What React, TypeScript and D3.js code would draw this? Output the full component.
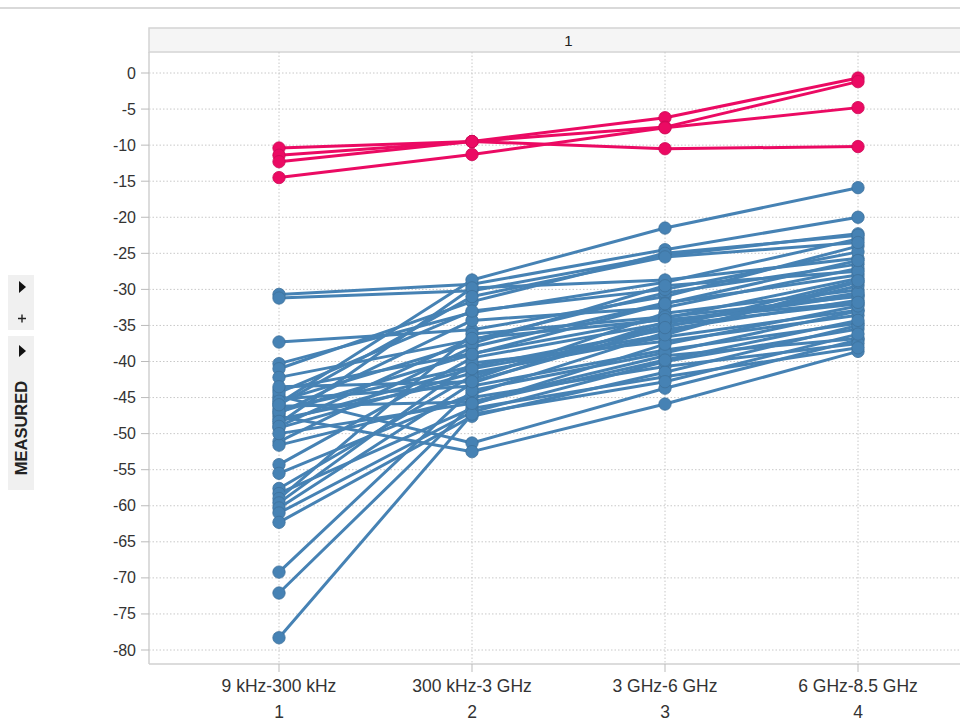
import React from "react";
import * as d3 from "d3";

const categories = ["9 kHz-300 kHz", "300 kHz-3 GHz", "3 GHz-6 GHz", "6 GHz-8.5 GHz"];
const categoryNumbers = ["1", "2", "3", "4"];
const yTicks = [0, -5, -10, -15, -20, -25, -30, -35, -40, -45, -50, -55, -60, -65, -70, -75, -80];
const panelTitle = "1";
const sideLabel = "MEASURED";

const pinkSeries: number[][] = [
  [-10.4, -9.5, -6.2, -0.7],
  [-11.4, -9.5, -7.5, -1.2],
  [-12.3, -9.5, -10.5, -10.2],
  [-14.5, -11.3, -7.6, -4.8],
];

const blueSeries: number[][] = [
  [-30.7, -29.3, -24.5, -20.0],
  [-31.2, -30.2, -25.3, -22.3],
  [-37.3, -35.6, -31.0, -24.0],
  [-40.3, -33.2, -29.0, -23.0],
  [-41.0, -31.7, -25.0, -22.5],
  [-42.2, -37.0, -30.5, -26.5],
  [-43.9, -38.9, -34.0, -28.5],
  [-44.8, -51.3, -43.7, -37.0],
  [-45.8, -28.7, -21.5, -15.9],
  [-46.7, -40.7, -35.6, -31.5],
  [-47.6, -52.5, -45.9, -38.6],
  [-48.6, -29.8, -28.7, -25.7],
  [-49.2, -41.6, -36.6, -32.9],
  [-45.2, -43.4, -38.4, -34.7],
  [-46.2, -45.6, -39.2, -36.8],
  [-47.2, -34.3, -32.5, -27.1],
  [-48.0, -42.5, -33.3, -30.1],
  [-51.1, -38.0, -31.9, -28.0],
  [-51.6, -45.0, -40.7, -37.5],
  [-54.3, -39.5, -34.7, -30.8],
  [-55.5, -44.5, -36.0, -29.5],
  [-57.6, -42.0, -35.0, -32.0],
  [-58.3, -46.5, -42.1, -38.1],
  [-59.0, -36.2, -33.8, -31.0],
  [-59.6, -40.2, -37.2, -33.6],
  [-60.3, -43.0, -34.5, -30.5],
  [-61.0, -47.0, -40.0, -35.5],
  [-62.3, -47.6, -41.5, -35.0],
  [-69.2, -44.0, -38.8, -33.0],
  [-72.1, -46.0, -37.6, -32.3],
  [-78.3, -47.3, -42.8, -36.2],
  [-44.3, -33.0, -30.0, -24.8],
  [-45.5, -37.5, -29.5, -27.5],
  [-47.0, -39.0, -32.0, -26.0],
  [-48.3, -41.0, -36.3, -29.0],
  [-46.0, -31.0, -25.5, -23.5],
  [-49.0, -36.8, -34.2, -31.8],
  [-50.0, -45.8, -39.8, -34.3],
  [-43.5, -42.8, -35.3, -28.8],
];

const BLUE = "#4682b4";
const PINK = "#eb0a63";

export default function App() {
  const W = 960;
  const H = 721;
  const plotLeft = 149;
  const plotRight = 988;
  const plotTop = 52;
  const plotBottom = 664;
  const headerTop = 28;

  const x = d3.scalePoint<string>().domain(categories).range([279, 858]);
  const y = d3.scaleLinear().domain([-80, 0]).range([650, 73]);

  const line = d3
    .line<number>()
    .x((_, i) => x(categories[i]) as number)
    .y((d) => y(d));

  const font = "'Liberation Sans', Arial, sans-serif";

  const renderSeries = (series: number[][], color: string, key: string) =>
    series.map((s, si) => (
      <g key={key + si}>
        <path d={line(s) || ""} fill="none" stroke={color} strokeWidth={3} strokeLinejoin="round" />
        {s.map((v, i) => (
          <circle key={i} cx={x(categories[i])} cy={y(v)} r={6.2} fill={color} stroke={d3.color(color)!.darker(0.4).toString()} strokeWidth={0.8} />
        ))}
      </g>
    ));

  return (
    <svg width={W} height={H} style={{ position: "absolute", left: 0, top: 0, display: "block" }} fontFamily={font}>
      <rect x={0} y={0} width={W} height={H} fill="#fff" />
      <line x1={0} x2={W} y1={8} y2={8} stroke="#d9d9d9" strokeWidth={2} />

      {/* side panel */}
      <rect x={8} y={275} width={26} height={55} fill="#f0f0f0" />
      <path d="M19,281 L26,287 L19,293 Z" fill="#111" />
      <path d="M18,318.5 L26,318.5 M22,314.5 L22,322.5" stroke="#222" strokeWidth={1.4} />
      <rect x={8} y={336} width={26} height={154} fill="#f0f0f0" />
      <path d="M19,345 L26,351 L19,357 Z" fill="#111" />
      <text
        transform="translate(27,428) rotate(-90)"
        fontSize={16.5}
        fontWeight="bold"
        textAnchor="middle"
        fill="#222"
      >
        {sideLabel}
      </text>

      {/* header */}
      <rect x={plotLeft} y={headerTop} width={plotRight - plotLeft} height={plotTop - headerTop} fill="#f5f5f5" stroke="#d4d4d4" strokeWidth={1.5} />
      <text x={(plotLeft + plotRight) / 2} y={46} fontSize={15} textAnchor="middle" fill="#222">{panelTitle}</text>

      {/* grid */}
      {yTicks.map((t) => (
        <line key={"g" + t} x1={plotLeft} x2={plotRight} y1={y(t)} y2={y(t)} stroke="#c8c8c8" strokeWidth={1} strokeDasharray="1.5,2" />
      ))}
      {categories.map((c) => (
        <line key={"v" + c} x1={x(c)} x2={x(c)} y1={plotTop} y2={plotBottom} stroke="#c8c8c8" strokeWidth={1} strokeDasharray="1.5,2" />
      ))}

      {/* frame */}
      <line x1={plotLeft} x2={plotLeft} y1={plotTop} y2={plotBottom} stroke="#d0d0d0" strokeWidth={1.5} />
      <line x1={plotLeft} x2={plotRight} y1={plotBottom} y2={plotBottom} stroke="#d0d0d0" strokeWidth={1.5} />

      {/* y axis */}
      {yTicks.map((t) => (
        <g key={"t" + t}>
          <line x1={141} x2={plotLeft} y1={y(t)} y2={y(t)} stroke="#bbb" strokeWidth={1} />
          <text x={136} y={y(t) + 5.5} fontSize={16} textAnchor="end" fill="#333">{t}</text>
        </g>
      ))}

      {/* x axis */}
      {categories.map((c, i) => (
        <g key={"x" + c}>
          <line x1={x(c)} x2={x(c)} y1={plotBottom} y2={plotBottom + 8} stroke="#bbb" strokeWidth={1} />
          <text x={x(c)} y={692} fontSize={17.5} textAnchor="middle" fill="#333">{c}</text>
          <text x={x(c)} y={718} fontSize={17.5} textAnchor="middle" fill="#333">{categoryNumbers[i]}</text>
        </g>
      ))}

      {renderSeries(blueSeries, BLUE, "b")}
      {renderSeries(pinkSeries, PINK, "p")}
    </svg>
  );
}
